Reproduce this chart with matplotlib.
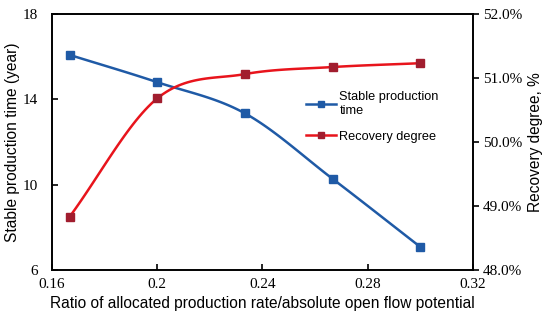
import matplotlib.pyplot as plt
import numpy as np

ratio = [1 / 6, 0.2, 7 / 30, 4 / 15, 0.3]
stable_time = [16.08, 14.8, 13.34, 10.27, 7.08]
recovery = [48.83, 50.68, 51.06, 51.17, 51.23]

BLUE = "#1f5aa6"
RED = "#e8141c"
DARKRED = "#a11d2e"


def smooth(x, y, n=30):
    # catmull-rom, close to excel's smoothed line
    x = np.asarray(x, float)
    y = np.asarray(y, float)
    px = np.concatenate([[2 * x[0] - x[1]], x, [2 * x[-1] - x[-2]]])
    py = np.concatenate([[2 * y[0] - y[1]], y, [2 * y[-1] - y[-2]]])
    xs, ys = [], []
    t = np.linspace(0, 1, n)
    for i in range(1, len(px) - 2):
        for p, out in ((px, xs), (py, ys)):
            p0, p1, p2, p3 = p[i - 1], p[i], p[i + 1], p[i + 2]
            out.extend(0.5 * (2 * p1 + (-p0 + p2) * t
                              + (2 * p0 - 5 * p1 + 4 * p2 - p3) * t ** 2
                              + (-p0 + 3 * p1 - 3 * p2 + p3) * t ** 3))
    return np.array(xs), np.array(ys)


fig = plt.figure(figsize=(5.5, 3.23), dpi=100)
ax = fig.add_axes([0.0945, 0.164, 0.7655, 0.793])
ax2 = ax.twinx()

sx, sy = smooth(ratio, stable_time)
ax.plot(sx, sy, color=BLUE, lw=1.8)
ax.plot(ratio, stable_time, ls="none", marker="s", ms=5.5, color=BLUE)

rx, ry = smooth(ratio, recovery)
ax2.plot(rx, ry, color=RED, lw=1.8)
ax2.plot(ratio, recovery, ls="none", marker="s", ms=5.5, color=DARKRED)

ax.set_xlim(0.16, 0.32)
ax.set_ylim(6, 18)
ax2.set_ylim(48, 52)
ax.set_xticks([0.16, 0.2, 0.24, 0.28, 0.32])
ax.set_xticklabels(["0.16", "0.2", "0.24", "0.28", "0.32"])
ax.set_yticks([6, 10, 14, 18])
ax2.set_yticks([48, 49, 50, 51, 52])
ax2.set_yticklabels(["48.0%", "49.0%", "50.0%", "51.0%", "52.0%"])

serif = "Liberation Serif"
sans = "Liberation Sans"
for a in (ax, ax2):
    for lab in a.get_xticklabels() + a.get_yticklabels():
        lab.set_fontfamily(serif)
        lab.set_fontsize(11)
    for s in a.spines.values():
        s.set_linewidth(1.2)
ax.tick_params(axis="y", direction="in", length=4, width=1.2, pad=10)
ax.tick_params(axis="x", direction="in", length=4, width=1.2, pad=6)
ax2.tick_params(direction="out", length=4, width=1.2, pad=3)

ax.set_xlabel("Ratio of allocated production rate/absolute open flow potential",
              family=sans, fontsize=11.2, labelpad=3)
ax.set_ylabel("Stable production time (year)", family=sans, fontsize=11.2, labelpad=2)
ax2.set_ylabel("Recovery degree, %", family=sans, fontsize=11.2, labelpad=4)

h1 = plt.Line2D([], [], color=BLUE, lw=1.8, marker="s", ms=4.5)
h2 = plt.Line2D([], [], color=RED, lw=1.8, marker="s", ms=4.5, mfc=DARKRED, mec=DARKRED)
ax2.legend([h1, h2], ["Stable production\ntime", "Recovery degree"],
           loc="upper left", bbox_to_anchor=(0.575, 0.745), frameon=False,
           prop={"family": sans, "size": 9.2}, handlelength=2.4, handletextpad=0.25,
           labelspacing=1.1)

fig.savefig("out.png", dpi=100)
